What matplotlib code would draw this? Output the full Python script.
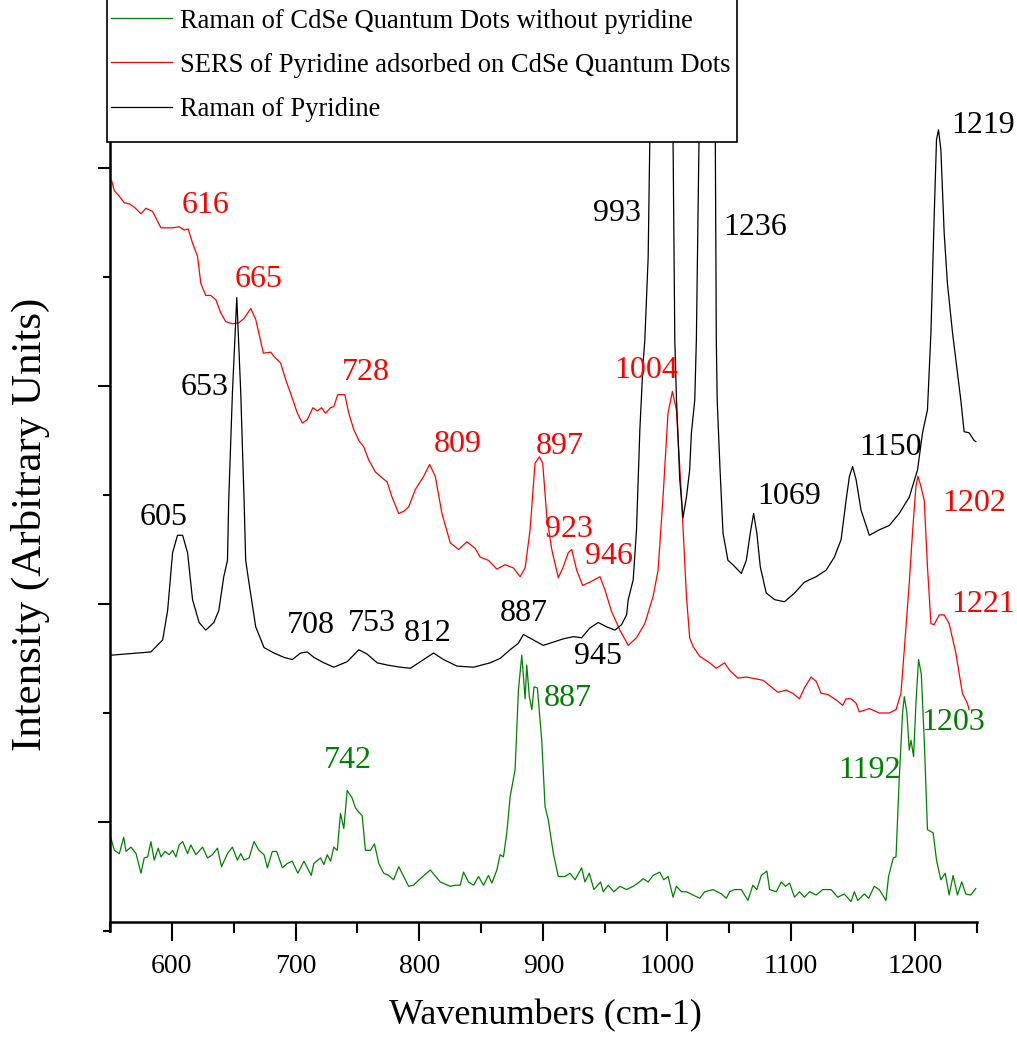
import matplotlib
matplotlib.use("Agg")
import matplotlib.pyplot as plt
from matplotlib.lines import Line2D
from matplotlib.patches import Rectangle
from matplotlib.ticker import MultipleLocator

plt.rcParams['font.family'] = ['Liberation Serif', 'DejaVu Serif']

# ---------------- data ----------------
# Raman of Pyridine (black)
pyr_wn = [551.1, 583.3, 592.8, 596.8, 600.8, 604.8, 608.9, 612.9, 616.9, 622.2,
          627.6, 634.1, 638.1, 642.1, 645.1, 646.1, 649.1, 652.6, 655.8, 658.5,
          659.8, 662.5, 667.9, 674.6, 682.6, 690.7, 697.4, 704.1, 709.5, 714.8,
          722.9, 730.9, 741.7, 751.1, 757.8, 765.9, 773.9, 784.6, 792.7, 811.4,
          819.5, 830.3, 843.6, 857.1, 865.1, 873.2, 879.9, 883.9, 892.0, 900.0,
          908.1, 916.1, 924.2, 930.9, 937.6, 944.3, 951.1, 957.8, 963.1, 967.2,
          968.5, 972.5, 975.2, 977.9, 980.5, 981.9, 984.6, 985.9, 993.0, 1004.7,
          1006.1, 1007.4, 1010.1, 1012.7, 1015.5, 1018.1, 1019.5, 1022.2, 1023.5, 1025.6,
          1032.0, 1038.8, 1039.6, 1040.3, 1042.5, 1045.0, 1049.0, 1053.0, 1059.8, 1063.8,
          1067.0, 1069.7, 1072.3, 1075.1, 1079.9, 1086.6, 1094.6, 1102.7, 1110.7, 1120.2,
          1128.2, 1134.9, 1140.3, 1144.3, 1147.0, 1149.6, 1152.4, 1156.4, 1163.1, 1171.1,
          1179.2, 1187.2, 1195.3, 1202.0, 1206.0, 1210.0, 1212.8, 1215.4, 1217.3, 1218.9,
          1220.8, 1223.5, 1226.1, 1230.2, 1232.9, 1236.9, 1239.6, 1243.6, 1247.6, 1249.0]
pyr_int = [2.53, 2.56, 2.67, 2.94, 3.47, 3.63, 3.63, 3.47, 3.04, 2.83,
           2.76, 2.83, 2.94, 3.25, 3.40, 3.95, 4.94, 5.81, 4.94, 3.95,
           3.40, 3.19, 2.79, 2.60, 2.55, 2.51, 2.49, 2.55, 2.56, 2.51,
           2.46, 2.42, 2.47, 2.58, 2.54, 2.46, 2.44, 2.42, 2.41, 2.55,
           2.49, 2.43, 2.42, 2.46, 2.50, 2.58, 2.64, 2.72, 2.67, 2.62,
           2.65, 2.68, 2.70, 2.69, 2.78, 2.83, 2.79, 2.76, 2.81, 2.90,
           3.04, 3.22, 3.68, 4.60, 5.21, 5.42, 6.18, 7.23, 10.0, 7.23,
           5.42, 4.90, 4.14, 3.79, 3.98, 4.23, 4.57, 4.87, 5.42, 7.23,
           10.0, 7.23, 5.42, 4.87, 4.26, 3.65, 3.40, 3.36, 3.28, 3.40,
           3.65, 3.83, 3.65, 3.34, 3.10, 3.04, 3.02, 3.10, 3.20, 3.25,
           3.31, 3.43, 3.59, 3.95, 4.17, 4.26, 4.14, 3.86, 3.63, 3.68,
           3.72, 3.83, 3.98, 4.23, 4.57, 4.78, 5.49, 6.55, 7.26, 7.35,
           7.17, 6.40, 5.94, 5.49, 5.24, 4.87, 4.58, 4.57, 4.50, 4.49]

# SERS of Pyridine adsorbed on CdSe QDs (red)
sers_wn = [550.0, 551.7, 553.8, 557.8, 561.8, 565.9, 569.9, 575.3, 579.3, 584.7,
           588.7, 591.4, 595.4, 600.8, 606.1, 610.1, 613.4, 616.9, 620.9, 623.6,
           627.6, 631.6, 635.7, 639.7, 643.7, 649.1, 654.4, 658.5, 663.9, 667.9,
           670.5, 674.1, 680.0, 682.6, 688.0, 692.0, 696.1, 701.5, 705.5, 709.5,
           714.0, 717.6, 721.0, 724.2, 728.3, 730.9, 734.1, 739.8, 743.0, 747.0,
           751.1, 755.1, 759.1, 764.5, 768.5, 773.9, 777.9, 783.3, 787.3, 791.3,
           796.7, 803.4, 808.2, 812.8, 818.2, 824.9, 831.6, 838.3, 845.0, 849.0,
           855.7, 862.5, 869.2, 875.9, 881.3, 885.3, 889.3, 893.3, 896.8, 899.5,
           902.8, 906.8, 912.1, 916.1, 920.1, 922.9, 926.9, 931.7, 937.6, 945.7,
           949.7, 955.1, 961.8, 968.5, 975.2, 981.9, 988.6, 992.6, 996.6, 1000.6,
           1004.2, 1007.4, 1011.5, 1015.5, 1018.1, 1020.8, 1026.2, 1034.2, 1039.6, 1046.3,
           1050.4, 1057.0, 1063.8, 1077.2, 1083.9, 1089.2, 1096.0, 1101.3, 1106.7, 1110.7,
           1116.1, 1120.2, 1124.2, 1129.5, 1136.3, 1141.6, 1144.3, 1148.3, 1152.4, 1155.0,
           1163.1, 1171.1, 1179.2, 1184.6, 1188.6, 1191.3, 1195.3, 1197.9, 1200.7, 1202.3,
           1204.7, 1207.4, 1210.0, 1212.8, 1215.4, 1219.5, 1223.5, 1227.5, 1232.9, 1238.2,
           1242.2, 1243.6]
sers_int = [6.87, 6.88, 6.79, 6.74, 6.68, 6.67, 6.64, 6.58, 6.63, 6.60,
            6.51, 6.45, 6.45, 6.45, 6.46, 6.43, 6.44, 6.31, 6.19, 5.94,
            5.83, 5.83, 5.79, 5.67, 5.59, 5.57, 5.58, 5.62, 5.71, 5.61,
            5.48, 5.30, 5.31, 5.27, 5.21, 5.06, 4.93, 4.75, 4.66, 4.69,
            4.80, 4.77, 4.80, 4.75, 4.80, 4.81, 4.92, 4.92, 4.75, 4.60,
            4.50, 4.44, 4.32, 4.21, 4.17, 4.12, 3.98, 3.83, 3.85, 3.89,
            4.05, 4.17, 4.28, 4.17, 3.83, 3.56, 3.50, 3.57, 3.51, 3.43,
            3.40, 3.32, 3.36, 3.33, 3.25, 3.33, 3.68, 4.29, 4.35, 4.29,
            3.80, 3.50, 3.24, 3.34, 3.47, 3.50, 3.31, 3.17, 3.20, 3.25,
            3.13, 2.93, 2.76, 2.62, 2.69, 2.82, 3.07, 3.31, 3.98, 4.75,
            4.95, 4.78, 3.98, 3.07, 2.69, 2.61, 2.52, 2.46, 2.41, 2.46,
            2.39, 2.32, 2.33, 2.30, 2.24, 2.19, 2.21, 2.18, 2.13, 2.23,
            2.33, 2.29, 2.18, 2.17, 2.12, 2.07, 2.13, 2.13, 2.09, 2.01,
            2.04, 2.00, 2.00, 2.03, 2.18, 2.58, 3.19, 3.65, 4.08, 4.17,
            4.08, 3.95, 3.34, 2.82, 2.81, 2.90, 2.90, 2.82, 2.55, 2.18,
            2.09, 2.03]

# Raman of CdSe QDs without pyridine (green)
qd_wn = [551.1, 553.8, 557.8, 561.4, 563.2, 567.2, 571.3, 575.3, 577.9, 580.7,
         583.3, 586.0, 589.2, 591.4, 594.6, 598.1, 600.8, 603.5, 606.1, 608.9,
         612.9, 615.5, 619.6, 625.0, 629.0, 633.0, 637.0, 640.3, 645.1, 649.1,
         653.1, 655.8, 658.5, 662.5, 666.5, 670.5, 674.6, 677.3, 681.3, 684.8,
         689.4, 693.4, 697.4, 701.9, 706.8, 712.7, 714.8, 720.2, 722.9, 725.6,
         728.3, 730.9, 733.7, 736.3, 739.0, 741.7, 745.7, 748.4, 751.1, 753.8,
         756.4, 760.5, 763.7, 767.2, 771.2, 775.2, 779.2, 783.3, 791.3, 795.3,
         800.7, 808.8, 816.8, 824.9, 828.9, 832.9, 835.6, 839.6, 843.7, 847.7,
         851.7, 855.7, 858.5, 862.5, 865.1, 867.8, 870.5, 873.2, 877.2, 879.9,
         882.6, 885.3, 886.6, 888.7, 890.7, 892.5, 895.2, 898.7, 901.4, 904.0,
         908.1, 912.1, 917.5, 921.5, 925.6, 930.9, 933.6, 937.1, 940.8, 946.2,
         948.3, 952.4, 956.9, 961.8, 967.2, 972.5, 976.5, 980.5, 984.6, 988.6,
         994.0, 997.2, 1000.7, 1004.7, 1007.4, 1011.5, 1015.5, 1020.8, 1026.2, 1030.2,
         1036.9, 1043.7, 1047.7, 1050.4, 1054.4, 1059.8, 1065.1, 1069.1, 1072.3, 1075.9,
         1080.4, 1082.6, 1088.0, 1092.0, 1095.4, 1098.7, 1102.7, 1106.7, 1110.7, 1114.8,
         1120.2, 1125.5, 1132.2, 1137.6, 1142.9, 1148.3, 1151.0, 1153.7, 1159.1, 1162.5,
         1167.1, 1171.1, 1176.5, 1178.6, 1182.4, 1184.6, 1187.2, 1189.9, 1191.3, 1193.4,
         1195.3, 1196.7, 1198.8, 1200.7, 1202.8, 1205.0, 1207.4, 1210.0, 1214.6, 1217.3,
         1220.8, 1224.3, 1227.5, 1230.7, 1234.2, 1237.7, 1240.9, 1244.9, 1249.0]
qd_int = [0.85, 0.74, 0.71, 0.86, 0.73, 0.77, 0.71, 0.53, 0.67, 0.68,
          0.82, 0.65, 0.76, 0.68, 0.73, 0.70, 0.74, 0.68, 0.79, 0.82,
          0.71, 0.79, 0.70, 0.77, 0.67, 0.70, 0.76, 0.59, 0.71, 0.77,
          0.65, 0.71, 0.65, 0.67, 0.82, 0.74, 0.70, 0.58, 0.73, 0.73,
          0.58, 0.62, 0.64, 0.53, 0.64, 0.51, 0.62, 0.67, 0.61, 0.70,
          0.64, 0.77, 0.74, 1.08, 0.94, 1.29, 1.22, 1.13, 1.09, 1.06,
          0.74, 0.74, 0.80, 0.62, 0.53, 0.51, 0.47, 0.59, 0.41, 0.42,
          0.48, 0.56, 0.45, 0.41, 0.42, 0.42, 0.54, 0.45, 0.42, 0.50,
          0.42, 0.51, 0.44, 0.56, 0.70, 0.68, 0.90, 1.23, 1.48, 2.21,
          2.53, 2.13, 2.44, 2.15, 2.03, 2.24, 2.23, 1.75, 1.14, 1.02,
          0.71, 0.50, 0.50, 0.53, 0.47, 0.58, 0.45, 0.53, 0.38, 0.45,
          0.36, 0.42, 0.36, 0.41, 0.38, 0.41, 0.44, 0.48, 0.45, 0.51,
          0.54, 0.47, 0.50, 0.31, 0.41, 0.36, 0.36, 0.33, 0.30, 0.36,
          0.38, 0.34, 0.30, 0.36, 0.38, 0.38, 0.28, 0.42, 0.38, 0.51,
          0.55, 0.38, 0.36, 0.45, 0.41, 0.44, 0.31, 0.36, 0.31, 0.36,
          0.33, 0.38, 0.38, 0.31, 0.34, 0.27, 0.36, 0.28, 0.34, 0.30,
          0.41, 0.38, 0.28, 0.50, 0.67, 0.68, 1.39, 2.00, 2.15, 2.00,
          1.66, 1.75, 1.60, 2.09, 2.49, 2.36, 1.75, 0.93, 0.90, 0.65,
          0.47, 0.53, 0.33, 0.51, 0.33, 0.45, 0.34, 0.33, 0.39]

# peak labels: text, x, y (centre of the label)
pyr_labels = ["605", "653", "708", "753", "812", "887", "945", "993", "1236", "1069", "1150", "1219"]
pyr_lab_x = [593.6, 626.8, 712.2, 761.8, 806.8, 884.5, 944.1, 959.8, 1071.3, 1098.6, 1180.6, 1254.9]
pyr_lab_y = [3.82, 5.01, 2.83, 2.85, 2.76, 2.94, 2.55, 6.61, 6.48, 4.01, 4.46, 7.42]

sers_labels = ["616", "665", "728", "809", "897", "923", "946", "1004", "1202", "1221"]
sers_lab_x = [627.6, 670.5, 757.1, 830.9, 913.5, 920.7, 952.9, 983.3, 1247.6, 1254.9]
sers_lab_y = [6.68, 6.00, 5.15, 4.49, 4.47, 3.71, 3.46, 5.17, 3.95, 3.02]

qd_labels = ["742", "887", "1192", "1203"]
qd_lab_x = [742.4, 919.5, 1163.1, 1231.1]
qd_lab_y = [1.59, 2.16, 1.50, 1.94]

GREEN = '#008000'
RED = '#ff0000'

fig = plt.figure(figsize=(10.17, 10.40), dpi=100)
ax = fig.add_axes([0.1078, 0.1048, 0.8529, 0.8019])

ax.plot(qd_wn, qd_int, color=GREEN, lw=0.9)
ax.plot(sers_wn, sers_int, color=RED, lw=0.9)
ax.plot(pyr_wn, pyr_int, color='black', lw=0.9)

lab_size = 23
for labs, xs, ys, c in [(pyr_labels, pyr_lab_x, pyr_lab_y, 'black'),
                        (sers_labels, sers_lab_x, sers_lab_y, RED),
                        (qd_labels, qd_lab_x, qd_lab_y, GREEN)]:
    for t, x, y in zip(labs, xs, ys):
        ax.annotate(t, (x, y), xytext=(0, -7.6), textcoords='offset points',
                    ha='center', va='baseline', color=c, fontsize=lab_size,
                    annotation_clip=False)

ax.set_xlim(550, 1250)
ax.set_ylim(0, 7.65)

ax.spines['top'].set_visible(False)
ax.spines['right'].set_visible(False)
ax.spines['left'].set_linewidth(1.8)
ax.spines['bottom'].set_linewidth(1.8)
ax.spines['bottom'].set_position(('data', 0.083))

ax.xaxis.set_major_locator(MultipleLocator(100))
ax.xaxis.set_minor_locator(MultipleLocator(50))
ax.yaxis.set_major_locator(MultipleLocator(2, offset=1))
ax.yaxis.set_minor_locator(MultipleLocator(2))
ax.tick_params(axis='x', which='major', direction='out', length=14, width=1.5,
               labelsize=20, pad=9)
ax.tick_params(axis='x', which='minor', direction='out', length=8, width=1.5)
ax.tick_params(axis='y', which='major', direction='out', length=9, width=1.5, labelleft=False)
ax.tick_params(axis='y', which='minor', direction='out', length=5, width=1.5)

ax.set_xlabel("Wavenumbers (cm-1)", fontsize=26)
ax.xaxis.set_label_coords(0.502, -0.082)
ax.set_ylabel("Intensity (Arbitrary Units)", fontsize=31)
ax.yaxis.set_label_coords(-0.0686, 0.487)

# legend box sitting over the top-left of the plot
fig.patches.append(Rectangle((107 / 1017, 1 - 142 / 1040), (737 - 107) / 1017, 142 / 1040 + 0.01,
                             transform=fig.transFigure, facecolor='white',
                             edgecolor='black', lw=1.2, zorder=3))
handles = [Line2D([], [], color=GREEN, lw=0.9),
           Line2D([], [], color=RED, lw=0.9),
           Line2D([], [], color='black', lw=0.9)]
names = ["Raman of CdSe Quantum Dots without pyridine",
         "SERS of Pyridine adsorbed on CdSe Quantum Dots",
         "Raman of Pyridine"]
leg = fig.legend(handles, names, loc='upper left', bbox_to_anchor=(108 / 1017, 1 - 6 / 1040),
                 frameon=False, fontsize=19.1, handlelength=2.3, handletextpad=0.3,
                 borderpad=0.1, borderaxespad=0, labelspacing=0.72)
leg.set_zorder(5)

fig.savefig("out.png", dpi=100)
